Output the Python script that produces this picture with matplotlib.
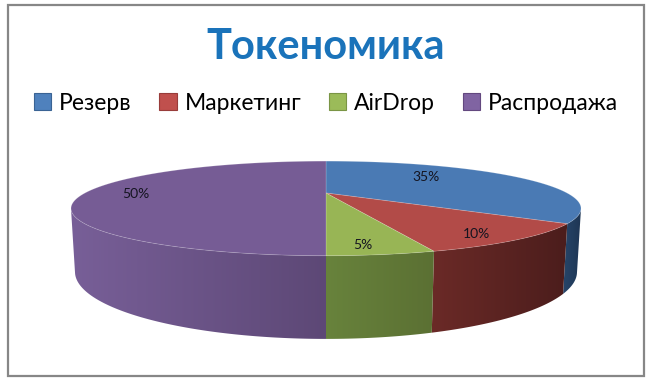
import numpy as np
import matplotlib
matplotlib.use('Agg')
import matplotlib.pyplot as plt
from matplotlib.patches import Polygon, Patch, Rectangle
from matplotlib.colors import to_rgb

# ---------------- data ----------------
title = 'Токеномика'
categories = ['Резерв', 'Маркетинг', 'AirDrop', 'Распродажа']
values = [35, 10, 5, 50]
pct_labels = ['35%', '10%', '5%', '50%']

# ---------------- style ----------------
top_colors = ['#4a7ab4', '#b24b48', '#98b555', '#765c95']
side_left = ['#27466b', '#6b2a27', '#68833c', '#785f98']
side_right = ['#1e3553', '#4b1d1c', '#5b7033', '#5d4876']
legend_colors = ['#4f81bd', '#c0504d', '#9bbb59', '#8064a2']
legend_edges = ['#3a6394', '#983c3a', '#7a9545', '#63487f']
label_r = [0.50, 0.83, 0.75, 0.79]
label_dy = [-7, 5, 11, 1]
FONT = ['Lato', 'Open Sans', 'DejaVu Sans']

W, H = 652, 383
fig = plt.figure(figsize=(W / 100, H / 100), dpi=100)
ax = fig.add_axes([0, 0, 1, 1])
ax.set_xlim(0, W)
ax.set_ylim(H, 0)
ax.axis('off')

# ---------------- simple perspective camera ----------------
CX, CY = 326.0, 193.0
F = 728.0
D = 3.02
alpha = np.deg2rad(10.1)
T = 0.245


def proj(u, v, z):
    depth = D + v * np.cos(alpha) - z * np.sin(alpha)
    yc = v * np.sin(alpha) + z * np.cos(alpha)
    return CX + F * u / depth, CY - F * yc / depth


fr = np.array(values, dtype=float) / np.sum(values)
edges = np.concatenate([[0.0], np.cumsum(fr)]) * 2 * np.pi  # clockwise from 12 o'clock
vis_lim = -1.0 / (D * np.cos(alpha))
vis_a = np.arccos(vis_lim)           # visible side range: [vis_a, 2pi - vis_a]
vis_b = 2 * np.pi - vis_a

# side walls (gradient image clipped to the wall polygon)
for i in range(len(values)):
    a0 = max(edges[i], vis_a)
    a1 = min(edges[i + 1], vis_b)
    if a1 <= a0:
        continue
    phis = np.linspace(a0, a1, 200)
    u, v = np.sin(phis), np.cos(phis)
    tx, ty = proj(u, v, 0.0)
    bx, by = proj(u, v, -T)
    pts = np.column_stack([np.concatenate([tx, bx[::-1]]),
                           np.concatenate([ty, by[::-1]])])
    poly = Polygon(pts, closed=True, facecolor='none', edgecolor='none', zorder=2)
    ax.add_patch(poly)
    x0, x1 = pts[:, 0].min() - 1, pts[:, 0].max() + 1
    y0, y1 = pts[:, 1].min() - 1, pts[:, 1].max() + 1
    cl = np.array(to_rgb(side_left[i]))
    cr = np.array(to_rgb(side_right[i]))
    t = np.linspace(0, 1, 256)[None, :, None]
    img = cl[None, None, :] + (cr - cl)[None, None, :] * t
    img = np.repeat(img, 2, axis=0)
    im = ax.imshow(img, extent=(x0, x1, y1, y0), aspect='auto',
                   interpolation='bilinear', zorder=2)
    im.set_clip_path(poly)

ax.set_xlim(0, W)
ax.set_ylim(H, 0)

# top faces
for i in range(len(values)):
    phis = np.linspace(edges[i], edges[i + 1], 200)
    u = np.concatenate([[0.0], np.sin(phis)])
    v = np.concatenate([[0.0], np.cos(phis)])
    x, y = proj(u, v, 0.0)
    ax.add_patch(Polygon(np.column_stack([x, y]), closed=True,
                         facecolor=top_colors[i], edgecolor=(1, 1, 1, 0.2),
                         linewidth=0.6, zorder=3))

# percentage labels
for i in range(len(values)):
    m = 0.5 * (edges[i] + edges[i + 1])
    lx, ly = proj(label_r[i] * np.sin(m), label_r[i] * np.cos(m), 0.0)
    ax.text(lx, ly + label_dy[i], pct_labels[i], ha='center', va='center',
            fontsize=10, color='#141420', family=FONT, zorder=5)

# title
ax.text(326, 47, title, ha='center', va='center', fontsize=30,
        fontweight='bold', color='#1a73ba', family=FONT, zorder=5)

# legend
handles = [Patch(facecolor=legend_colors[i], edgecolor=legend_edges[i],
                 linewidth=0.8, label=categories[i]) for i in range(len(values))]
leg = ax.legend(handles=handles, loc='center', bbox_to_anchor=(326 / W, 1 - 103 / H),
                ncol=4, frameon=False, prop={'family': FONT, 'size': 16.5},
                handlelength=0.75, handleheight=0.75, handletextpad=0.35,
                columnspacing=1.2, borderaxespad=0)

# frame
ax.add_patch(Rectangle((8, 5), 636, 371, fill=False, edgecolor='#878787',
                       linewidth=1.6, zorder=6))

fig.savefig('out.png', dpi=100)
